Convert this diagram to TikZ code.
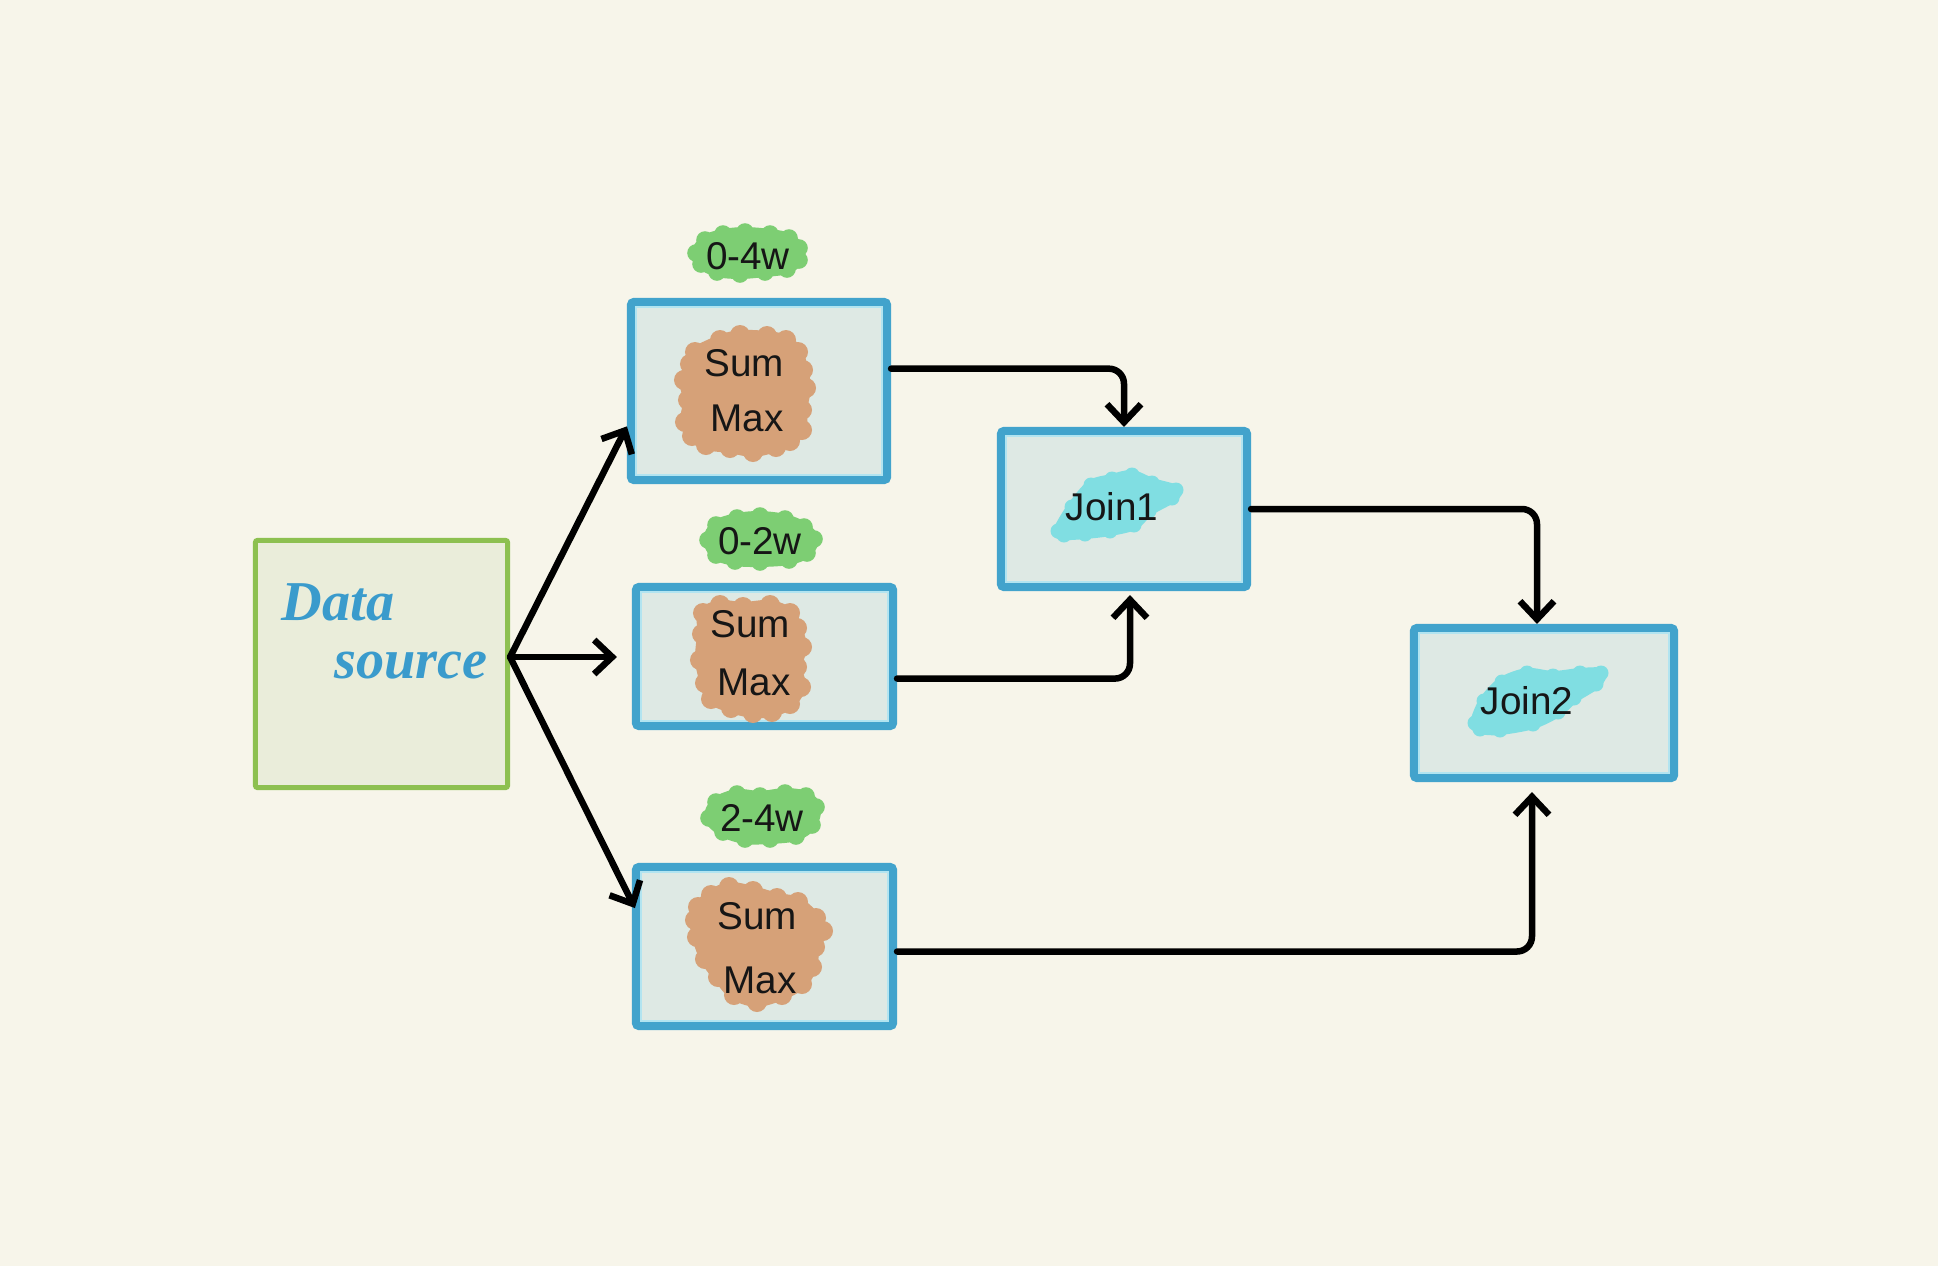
\documentclass[tikz,border=0pt]{standalone}
\usepackage{fontspec}
\setmainfont{Liberation Sans}
\newfontfamily\handfont{Liberation Serif}
\usetikzlibrary{arrows.meta,calc}

\definecolor{paper}{RGB}{247,245,234}
\definecolor{stageblue}{RGB}{66,163,204}
\definecolor{stagerim}{RGB}{178,228,240}
\definecolor{stagefill}{RGB}{222,233,228}
\definecolor{srcgreen}{RGB}{141,192,80}
\definecolor{srcfill}{RGB}{234,237,218}
\definecolor{aggorange}{RGB}{214,161,120}
\definecolor{wingreen}{RGB}{125,206,115}
\definecolor{joincyan}{RGB}{128,222,226}
\definecolor{inkblue}{RGB}{58,155,204}
\definecolor{ink}{RGB}{22,22,22}

% filled blob: smooth outline through the points plus a soft bump on each point
\newcommand\blob[3]{%
  \def\blobpts{}%
  \foreach \bx/\by in {#3}{\xdef\blobpts{\blobpts (\bx,\by)}}%
  \edef\blobcmd{\noexpand\filldraw[#1, line width=0.1cm, line join=round] plot[smooth cycle] coordinates {\blobpts};}%
  \blobcmd
  \foreach \bx/\by in {#3}{\fill[#1] (\bx,\by) circle (#2);}%
}

\begin{document}
\begin{tikzpicture}[x=0.01cm,y=-0.01cm,
  stage/.style={draw=stageblue, fill=stagefill, line width=0.08cm,
    rounded corners=0.03cm, inner sep=0pt},
  source/.style={draw=srcgreen, fill=srcfill, line width=0.05cm,
    rounded corners=0.02cm, inner sep=0pt, minimum width=2.52cm, minimum height=2.47cm},
  rim/.style={draw=stagerim, line width=0.02cm},
  txt/.style={text=ink, inner sep=0pt, font=\fontsize{11pt}{13pt}\selectfont},
  hand/.style={text=inkblue, inner sep=0pt, font=\handfont\bfseries\itshape\fontsize{16pt}{18pt}\selectfont},
  conn/.style={draw=black, line width=0.065cm, line cap=round, line join=round,
    -{Straight Barb[length=0.18cm, width=0.34cm]}},
]
% canvas
\fill[paper] (0,0) rectangle (1938,1266);
\useasboundingbox (0,0) rectangle (1938,1266);

% data source
\node[source] (ds) at (381.5,664) {};
\node[hand] (dsa) at (338,602) {Data};
\node[hand] (dsb) at (411,666) {source};

% aggregation stages
\node[stage, minimum width=2.56cm, minimum height=1.78cm] (b1) at (759,391) {};
\node[stage, minimum width=2.57cm, minimum height=1.39cm] (b2) at (764.5,656.5) {};
\node[stage, minimum width=2.57cm, minimum height=1.59cm] (b3) at (764.5,946.5) {};
% join stages
\node[stage, minimum width=2.46cm, minimum height=1.56cm] (j1) at (1124,509) {};
\node[stage, minimum width=2.60cm, minimum height=1.50cm] (j2) at (1544,703) {};

% light inner rims
\foreach \n in {b1,b2,b3,j1,j2}
  \draw[rim] ($(\n.north west)+(9,9)$) rectangle ($(\n.south east)+(-9,-9)$);

% highlight blobs behind the labels
\blob{aggorange}{0.1cm}{695/352, 720/340, 740/335, 767/336, 786/340, 798/352, 803/370, 806/388, 802/410, 802/430, 790/441, 776/447, 753/452, 730/448, 706/445, 692/436, 685/422, 688/400, 684/380, 690/364}
\blob{aggorange}{0.1cm}{703/613, 720/605, 743/607, 770/605, 790/613, 797/628, 802/647, 797/667, 801/687, 790/704, 772/712, 753/713, 731/708, 711/699, 705/683, 700/660, 702/634}
\blob{aggorange}{0.1cm}{698/907, 711/895, 729/887, 753/891, 777/898, 798/902, 816/918, 823/931, 815/947, 812/967, 802/984, 782/995, 757/1002, 734/995, 718/977, 705/959, 697/937, 695/920}

\blob{wingreen}{0.088cm}{696/253, 705/240, 723/234, 745/232, 770/234, 789/238, 799/248, 799/260, 787/269, 765/272, 740/274, 717/272, 701/264}
\blob{wingreen}{0.088cm}{708/540, 716/525, 737/518, 760/516, 785/519, 804/527, 814/539, 807/553, 789/560, 760/562, 735/561, 716/555}
\blob{wingreen}{0.088cm}{709/818, 716/802, 737/794, 760/796, 785/793, 806/796, 816/807, 812/825, 796/836, 770/839, 745/839, 723/832}

\blob{joincyan}{0.075cm}{1058/531, 1072/507, 1091/485, 1112/479, 1132/475, 1152/483, 1176/490, 1172/498, 1149/511, 1134/525, 1110/531, 1085/534, 1064/535}
\blob{joincyan}{0.075cm}{1475/723, 1484/701, 1502/682, 1527/673, 1553/676, 1580/673, 1601/673, 1596/684, 1574/698, 1558/712, 1533/724, 1500/730, 1480/729}

% labels
\node[txt] (w1) at (748,256) {0-4w};
\node[txt] (w2) at (760,541) {0-2w};
\node[txt] (w3) at (762,818) {2-4w};
\node[txt] (s1) at (744,363) {Sum};
\node[txt] (m1) at (747,418) {Max};
\node[txt] (s2) at (750,624) {Sum};
\node[txt] (m2) at (754,682) {Max};
\node[txt] (s3) at (757,916) {Sum};
\node[txt] (m3) at (760,980) {Max};
\node[txt] (jt1) at (1112,507) {Join1};
\node[txt] (jt2) at (1527,701) {Join2};

% data flow
\coordinate (dsout) at ($(ds.east)+(0,-7)$);
\draw[conn] (dsout) -- ($(b1.north west)!0.69!(b1.south west)$);
\draw[conn] (dsout) -- ($(dsout -| b2.west)+(-15,0)$);
\draw[conn] (dsout) -- ($(b3.north west)!0.27!(b3.south west)+(3,0)$);

\draw[conn, rounded corners=0.15cm] ($(b1.north east)!0.38!(b1.south east)$) -| (j1.north);
\draw[conn, rounded corners=0.15cm] ($(b2.north east)!0.65!(b2.south east)$) -| ($(j1.south)+(6,4)$);
\draw[conn, rounded corners=0.15cm] (j1.east) -| ($(j2.north)+(-7,0)$);
\draw[conn, rounded corners=0.15cm] ($(b3.east)+(0,5)$) -| ($(j2.south)+(-12,10)$);
\end{tikzpicture}
\end{document}
